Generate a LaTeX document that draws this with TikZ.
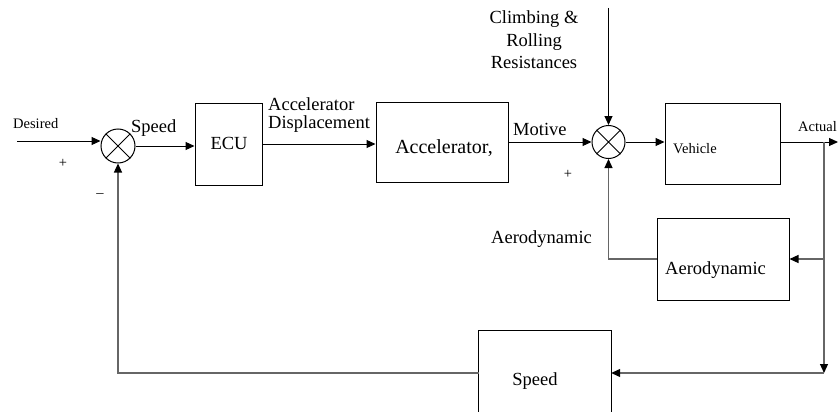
\documentclass[tikz,border=0pt]{standalone}
\usepackage{fontspec}
\setmainfont{Liberation Serif}
\usetikzlibrary{arrows.meta}
\begin{document}
\begin{tikzpicture}[x=1pt,y=-1pt,
  big/.style={font=\fontsize{18.5}{22.5}\selectfont, inner sep=0pt},
  small/.style={font=\fontsize{14.5}{17}\selectfont, inner sep=0pt},
  blk/.style={draw=black, line width=1pt, rectangle, inner sep=0pt},
  sumj/.style={draw=black, line width=1pt, circle, inner sep=0pt, minimum size=34pt},
  fwd/.style={draw=black, line width=1pt, -{Triangle[length=9pt,width=8pt]}},
  fb/.style={draw=black!60, line width=1.2pt, arrows={-{Triangle[length=9pt,width=8pt,color=black]}}}
]
\useasboundingbox (0,0) rectangle (838,412);

% junctions
\node[sumj] (s1) at (118,146) {};
\draw[line width=1pt] (s1.45) -- (s1.225) (s1.135) -- (s1.315);
\node[sumj, minimum size=33pt] (s2) at (608.5,142) {};
\draw[line width=1pt] (s2.45) -- (s2.225) (s2.135) -- (s2.315);

% blocks
\node[blk, minimum width=67pt, minimum height=82pt] (ecu) at (228.5,144) {};
\node[big] (ecut) at (229,143) {ECU};
\node[blk, minimum width=132pt, minimum height=80pt] (acc) at (442,142) {};
\node[big, font=\fontsize{20}{24}\selectfont] (acct) at (444,148) {Accelerator,};
\node[blk, minimum width=115pt, minimum height=81pt] (veh) at (722.5,143.5) {};
\node[small, anchor=west] (veht) at (673,149) {Vehicle};
\node[blk, minimum width=132pt, minimum height=82pt] (aero) at (723,259) {};
\node[big, anchor=west] (aerot) at (665,270) {Aerodynamic};
\node[rectangle, minimum width=132pt, minimum height=81pt, inner sep=0pt] (sp) at (545,371.5) {};
\draw[line width=1pt] (sp.south west) -- (sp.north west) -- (sp.north east) -- (sp.south east);
\node[big] (spt) at (535,381) {Speed};

% labels
\node[small, anchor=west] (desired) at (13,124) {Desired};
\node[big, anchor=west] (speedl) at (131,128) {Speed};
\node[small] (plus1) at (63,163) {+};
\node[small] (minus1) at (100,196) {–};
\node[big, anchor=west] (accl) at (268,104) {Accelerator};
\node[big, anchor=west] (displ) at (268,124) {Displacement};
\node[big, anchor=west] (motive) at (513,129) {Motive};
\node[big, align=center] (climb) at (534,40) {Climbing \&\\Rolling\\Resistances};
\node[small] (plus2) at (568,174) {+};
\node[small, anchor=west] (actual) at (798,127) {Actual};
\node[big, anchor=west] (aerol) at (491,239) {Aerodynamic};

% forward path
\coordinate (din) at (17,141);
\draw[fwd] (din) -- (din -| s1.west);
\draw[fwd] (s1.east) -- (ecu.west |- s1.east);
\draw[fwd] (ecu.east) -- (acc.west |- ecu.east);
\draw[fwd] (acc.east |- s2) -- (s2.west);
\draw[fwd] (s2.east) -- (veh.west |- s2.east);
\coordinate (dist) at (608.5,8);
\draw[fwd] (dist) -- (s2.north);
\coordinate (out) at (838,142);
\draw[fwd] (veh.east |- out) -- (out);

% feedback paths
\coordinate (br) at (824,142);
\coordinate (corner) at (824,373);
\coordinate (abr) at (824,259);
\draw[fb] (br) -- (corner);
\draw[fb] (corner) -- (sp.east |- corner);
\draw[fb] (abr) -- (aero.east);
\draw[fb] (aero.west) -| (s2.south);
\draw[fb] (sp.west |- corner) -| (s1.south);
\end{tikzpicture}
\end{document}
